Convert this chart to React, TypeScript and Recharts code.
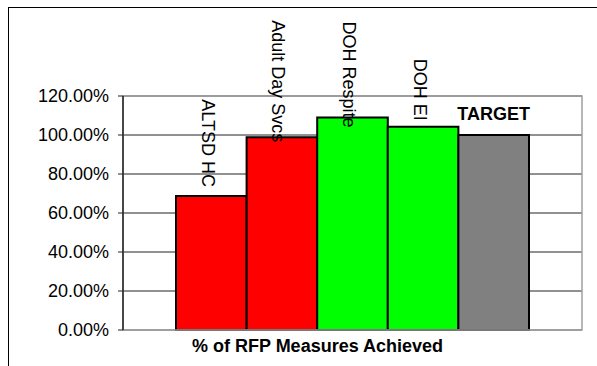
import { BarChart, Bar, XAxis, YAxis, CartesianGrid, ReferenceArea, LabelList } from 'recharts';

const category = '% of RFP Measures Achieved';
const seriesNames = ['ALTSD HC', 'Adult Day Svcs', 'DOH Respite', 'DOH EI', 'TARGET'];
const seriesValues = [68.7, 98.8, 109.0, 104.2, 100];
const yTicks = [0, 20, 40, 60, 80, 100, 120];

const barColors = ['#ff0000', '#ff0000', '#00ff00', '#00ff00', '#808080'];
// where each rotated name ends, relative to its bar top
const labelShift = [-9, 5, 10, -6, 0];

const FONT = '"Liberation Sans", Arial, sans-serif';

const row: Record<string, string | number> = { name: category };
seriesNames.forEach((n, i) => {
  row[n] = seriesValues[i];
});
const chartData = [row];

const nameLabel = (i: number) => (props: any) => {
  const { x, y, width } = props;
  const cx = Number(x) + Number(width) / 2;
  const top = Number(y);
  if (seriesNames[i] === 'TARGET') {
    return (
      <text x={cx} y={top - 15} textAnchor="middle" fontSize={18} fontWeight="bold" fontFamily={FONT} fill="#000">
        {seriesNames[i]}
      </text>
    );
  }
  return (
    <text
      transform={`translate(${cx - 9.5},${top + labelShift[i]}) rotate(90)`}
      textAnchor="end"
      fontSize={18}
      fontFamily={FONT}
      fill="#000"
    >
      {seriesNames[i]}
    </text>
  );
};

const CategoryTick = (props: any) => {
  const { x, y, payload } = props;
  return (
    <text x={x - 35} y={y + 14} textAnchor="middle" fontSize={18} fontWeight="bold" fontFamily={FONT} fill="#000">
      {payload.value}
    </text>
  );
};

export default function App() {
  return (
    <div style={{ position: 'absolute', left: 8, top: 7, width: 589, height: 359, overflow: 'hidden', background: '#fff' }}>
      {/* outer frame, only the top and left edges fall inside the picture */}
      <div style={{ position: 'absolute', left: 0, top: 0, width: 589, height: 1, background: '#000' }} />
      <div style={{ position: 'absolute', left: 0, top: 0, width: 1, height: 359, background: '#000' }} />
      <div style={{ position: 'absolute', left: 1, top: 1 }}>
        <BarChart
          width={588}
          height={358}
          data={chartData}
          margin={{ top: 88, right: 15, bottom: 0, left: 0 }}
          barSize={70.6}
          barGap={0}
        >
          <CartesianGrid vertical={false} stroke="#222" strokeWidth={1} />
          <ReferenceArea y1={0} y2={120} fill="none" stroke="#a0a0a0" strokeWidth={1.5} />
          <XAxis
            dataKey="name"
            height={36}
            axisLine={{ stroke: '#a0a0a0', strokeWidth: 1.5 }}
            tickLine={false}
            tick={<CategoryTick />}
          />
          <YAxis
            width={114}
            domain={[0, 120]}
            ticks={yTicks}
            tickFormatter={(v: number) => `${v.toFixed(2)}%`}
            axisLine={{ stroke: '#222', strokeWidth: 1.5 }}
            tickLine={{ stroke: '#222' }}
            tickSize={5}
            tickMargin={9}
            tick={{ fontSize: 18, fontFamily: FONT, fill: '#000' }}
          />
          {seriesNames.map((n, i) => (
            <Bar key={n} dataKey={n} fill={barColors[i]} stroke="#000" strokeWidth={2} isAnimationActive={false}>
              <LabelList dataKey={n} content={nameLabel(i)} />
            </Bar>
          ))}
        </BarChart>
      </div>
    </div>
  );
}
